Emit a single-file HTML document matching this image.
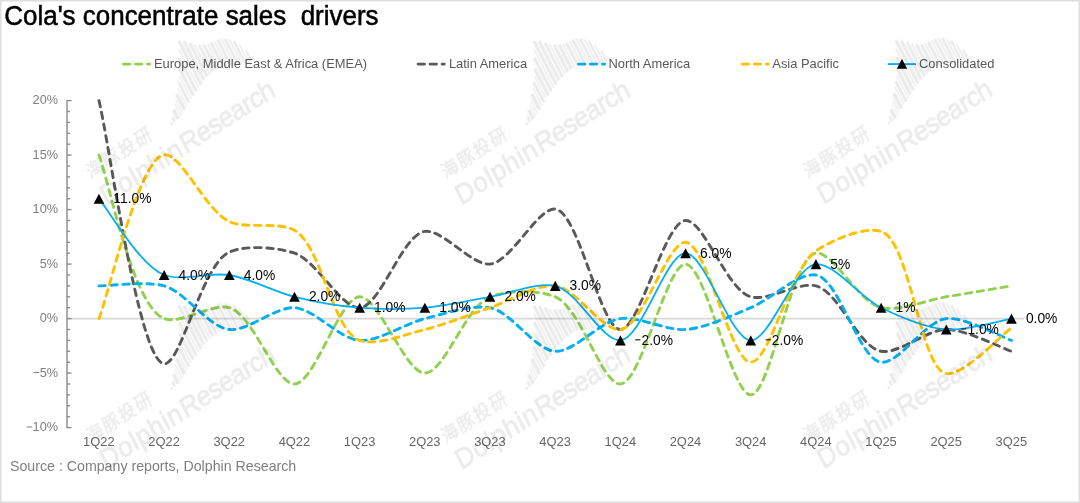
<!DOCTYPE html>
<html><head><meta charset="utf-8"><title>Cola's concentrate sales drivers</title>
<style>html,body{margin:0;padding:0;background:#fff;overflow:hidden}svg{display:block;will-change:transform}</style></head>
<body>
<svg width="1080" height="503" viewBox="0 0 1080 503" font-family="'Liberation Sans', sans-serif">
<rect x="0" y="0" width="1080" height="503" fill="#fff"/>
<line x1="67.0" y1="318.6" x2="1024.5" y2="318.6" stroke="#d9d9d9" stroke-width="1.6"/>
<g stroke="#8c8c8c" stroke-width="1.4" fill="none">
<line x1="67.00" y1="99.90" x2="67.00" y2="428.30"/>
<line x1="67.00" y1="427.60" x2="71.50" y2="427.60"/>
<line x1="67.00" y1="416.70" x2="70.00" y2="416.70"/>
<line x1="67.00" y1="405.80" x2="70.00" y2="405.80"/>
<line x1="67.00" y1="394.90" x2="70.00" y2="394.90"/>
<line x1="67.00" y1="384.00" x2="70.00" y2="384.00"/>
<line x1="67.00" y1="373.10" x2="71.50" y2="373.10"/>
<line x1="67.00" y1="362.20" x2="70.00" y2="362.20"/>
<line x1="67.00" y1="351.30" x2="70.00" y2="351.30"/>
<line x1="67.00" y1="340.40" x2="70.00" y2="340.40"/>
<line x1="67.00" y1="329.50" x2="70.00" y2="329.50"/>
<line x1="67.00" y1="318.60" x2="71.50" y2="318.60"/>
<line x1="67.00" y1="307.70" x2="70.00" y2="307.70"/>
<line x1="67.00" y1="296.80" x2="70.00" y2="296.80"/>
<line x1="67.00" y1="285.90" x2="70.00" y2="285.90"/>
<line x1="67.00" y1="275.00" x2="70.00" y2="275.00"/>
<line x1="67.00" y1="264.10" x2="71.50" y2="264.10"/>
<line x1="67.00" y1="253.20" x2="70.00" y2="253.20"/>
<line x1="67.00" y1="242.30" x2="70.00" y2="242.30"/>
<line x1="67.00" y1="231.40" x2="70.00" y2="231.40"/>
<line x1="67.00" y1="220.50" x2="70.00" y2="220.50"/>
<line x1="67.00" y1="209.60" x2="71.50" y2="209.60"/>
<line x1="67.00" y1="198.70" x2="70.00" y2="198.70"/>
<line x1="67.00" y1="187.80" x2="70.00" y2="187.80"/>
<line x1="67.00" y1="176.90" x2="70.00" y2="176.90"/>
<line x1="67.00" y1="166.00" x2="70.00" y2="166.00"/>
<line x1="67.00" y1="155.10" x2="71.50" y2="155.10"/>
<line x1="67.00" y1="144.20" x2="70.00" y2="144.20"/>
<line x1="67.00" y1="133.30" x2="70.00" y2="133.30"/>
<line x1="67.00" y1="122.40" x2="70.00" y2="122.40"/>
<line x1="67.00" y1="111.50" x2="70.00" y2="111.50"/>
<line x1="67.00" y1="100.60" x2="71.50" y2="100.60"/>
</g>
<g font-size="12.7" fill="#7f7f7f" text-anchor="end">
<text x="58" y="431.40">10%</text>
<rect x="26.58" y="426.50" width="5.6" height="1" />
<text x="58" y="376.90">5%</text>
<rect x="33.64" y="372.00" width="5.6" height="1" />
<text x="58" y="322.40">0%</text>
<text x="58" y="267.90">5%</text>
<text x="58" y="213.40">10%</text>
<text x="58" y="158.90">15%</text>
<text x="58" y="104.40">20%</text>
</g>
<g font-size="12.9" fill="#666" text-anchor="middle">
<text x="98.86" y="445.8">1Q22</text>
<text x="164.04" y="445.8">2Q22</text>
<text x="229.22" y="445.8">3Q22</text>
<text x="294.40" y="445.8">4Q22</text>
<text x="359.58" y="445.8">1Q23</text>
<text x="424.76" y="445.8">2Q23</text>
<text x="489.94" y="445.8">3Q23</text>
<text x="555.12" y="445.8">4Q23</text>
<text x="620.30" y="445.8">1Q24</text>
<text x="685.48" y="445.8">2Q24</text>
<text x="750.66" y="445.8">3Q24</text>
<text x="815.84" y="445.8">4Q24</text>
<text x="881.02" y="445.8">1Q25</text>
<text x="946.20" y="445.8">2Q25</text>
<text x="1011.38" y="445.8">3Q25</text>
</g>
<path d="M98.96 155.10 C108.93 180.12 132.41 306.13 164.14 318.60 C180.47 325.02 212.09 302.79 229.32 307.70 C253.44 314.57 275.43 384.35 294.50 384.00 C314.59 383.63 339.59 297.17 359.68 296.80 C378.75 296.45 405.31 373.10 424.86 373.10 C444.41 373.10 465.65 306.25 490.04 296.80 C507.20 290.15 538.27 289.80 555.22 296.80 C580.61 307.28 601.99 384.70 620.40 384.00 C641.46 383.19 666.39 263.93 685.58 264.10 C705.53 264.28 731.55 395.05 750.76 394.90 C770.68 394.75 791.07 256.35 815.94 253.20 C832.99 251.04 858.88 302.69 881.12 307.70 C898.95 311.72 926.75 300.07 946.30 296.80 C965.85 293.53 1001.51 287.57 1011.48 285.90" fill="none" stroke="#92d050" stroke-width="2.9" stroke-dasharray="6.4 5.6" stroke-linecap="round" stroke-linejoin="round"/>
<path d="M98.96 100.60 C108.93 140.87 138.83 362.08 164.14 363.84 C181.11 365.01 201.70 264.37 229.32 252.11 C245.95 244.73 276.76 247.32 294.50 253.20 C316.96 260.65 341.13 308.66 359.68 307.70 C380.50 306.62 402.34 234.51 424.86 231.40 C442.58 228.96 471.58 265.69 490.04 264.10 C511.00 262.29 537.83 207.17 555.22 209.05 C578.72 211.60 600.40 329.28 620.40 329.50 C639.55 329.71 664.39 221.48 685.58 220.50 C703.91 219.65 726.64 289.93 750.76 296.80 C767.99 301.71 798.44 281.39 815.94 285.90 C839.10 291.88 858.60 347.31 881.12 351.30 C898.84 354.44 926.75 329.50 946.30 329.50 C965.85 329.50 1001.51 347.96 1011.48 351.30" fill="none" stroke="#595959" stroke-width="2.9" stroke-dasharray="6.4 5.6" stroke-linecap="round" stroke-linejoin="round"/>
<path d="M98.96 285.90 C108.93 285.90 146.01 280.88 164.14 285.90 C185.72 291.87 208.47 327.24 229.32 329.50 C247.85 331.51 275.46 306.55 294.50 307.70 C314.63 308.91 339.55 339.19 359.68 340.40 C378.72 341.55 404.89 323.54 424.86 318.60 C444.03 313.86 471.81 304.33 490.04 307.70 C511.41 311.65 535.02 350.34 555.22 351.30 C574.20 352.20 599.80 321.38 620.40 318.60 C639.09 316.08 666.41 330.91 685.58 329.50 C705.55 328.03 731.72 315.57 750.76 307.70 C770.89 299.38 798.50 272.26 815.94 275.00 C839.28 278.67 858.75 359.78 881.12 362.20 C898.90 364.12 925.45 320.86 946.30 318.60 C964.83 316.59 1001.51 337.06 1011.48 340.40" fill="none" stroke="#00b0f0" stroke-width="2.9" stroke-dasharray="6.4 5.6" stroke-linecap="round" stroke-linejoin="round"/>
<path d="M98.96 318.60 C108.93 293.53 139.27 157.43 164.14 154.77 C181.19 152.95 205.95 211.02 229.32 221.59 C246.75 229.47 277.83 221.01 294.50 230.31 C321.75 245.50 332.56 331.11 359.68 340.40 C376.37 346.12 405.69 334.24 424.86 329.50 C444.83 324.56 470.49 314.24 490.04 307.70 C509.59 301.16 536.69 283.89 555.22 285.90 C576.07 288.16 602.62 331.42 620.40 329.50 C642.77 327.08 667.17 241.60 685.58 242.30 C706.64 243.11 730.87 362.03 750.76 362.20 C770.00 362.36 789.41 269.64 815.94 251.02 C832.71 239.25 864.63 226.42 881.12 231.40 C910.24 240.19 920.41 369.58 946.30 373.65 C963.17 376.29 1001.51 334.87 1011.48 327.87" fill="none" stroke="#ffc000" stroke-width="2.9" stroke-dasharray="6.4 5.6" stroke-linecap="round" stroke-linejoin="round"/>
<path d="M98.96 198.70 C108.93 210.37 139.75 265.55 164.14 275.00 C181.30 281.65 210.28 272.00 229.32 275.00 C249.45 278.18 274.53 291.86 294.50 296.80 C313.67 301.54 339.97 306.08 359.68 307.70 C379.09 309.30 405.45 309.30 424.86 307.70 C444.57 306.08 470.49 300.07 490.04 296.80 C509.59 293.53 537.39 281.88 555.22 285.90 C577.46 290.91 602.23 341.68 620.40 340.40 C641.88 338.88 666.03 253.20 685.58 253.20 C705.13 253.20 730.67 340.03 750.76 340.40 C769.83 340.75 794.32 266.03 815.94 264.10 C834.04 262.49 860.27 297.65 881.12 307.70 C899.65 316.63 926.33 328.03 946.30 329.50 C965.47 330.91 1001.51 320.27 1011.48 318.60" fill="none" stroke="#00b0f0" stroke-width="1.8" stroke-linecap="round"/>
<path d="M98.96 193.65 L104.31 203.75 L93.61 203.75 Z" fill="#000"/>
<path d="M164.14 269.95 L169.49 280.05 L158.79 280.05 Z" fill="#000"/>
<path d="M229.32 269.95 L234.67 280.05 L223.97 280.05 Z" fill="#000"/>
<path d="M294.50 291.75 L299.85 301.85 L289.15 301.85 Z" fill="#000"/>
<path d="M359.68 302.65 L365.03 312.75 L354.33 312.75 Z" fill="#000"/>
<path d="M424.86 302.65 L430.21 312.75 L419.51 312.75 Z" fill="#000"/>
<path d="M490.04 291.75 L495.39 301.85 L484.69 301.85 Z" fill="#000"/>
<path d="M555.22 280.85 L560.57 290.95 L549.87 290.95 Z" fill="#000"/>
<path d="M620.40 335.35 L625.75 345.45 L615.05 345.45 Z" fill="#000"/>
<path d="M685.58 248.15 L690.93 258.25 L680.23 258.25 Z" fill="#000"/>
<path d="M750.76 335.35 L756.11 345.45 L745.41 345.45 Z" fill="#000"/>
<path d="M815.94 259.05 L821.29 269.15 L810.59 269.15 Z" fill="#000"/>
<path d="M881.12 302.65 L886.47 312.75 L875.77 312.75 Z" fill="#000"/>
<path d="M946.30 324.45 L951.65 334.55 L940.95 334.55 Z" fill="#000"/>
<path d="M1011.48 313.55 L1016.83 323.65 L1006.13 323.65 Z" fill="#000"/>
<g font-size="13.8" fill="#000">
<text x="113.36" y="203.20">11.0%</text>
<text x="178.54" y="279.50">4.0%</text>
<text x="243.72" y="279.50">4.0%</text>
<text x="308.90" y="301.30">2.0%</text>
<text x="374.08" y="312.20">1.0%</text>
<text x="439.26" y="312.20">1.0%</text>
<text x="504.44" y="301.30">2.0%</text>
<text x="569.62" y="290.40">3.0%</text>
<rect x="635.30" y="339.30" width="5.1" height="1.05"/>
<text x="641.50" y="344.90">2.0%</text>
<text x="699.98" y="257.70">6.0%</text>
<rect x="765.66" y="339.30" width="5.1" height="1.05"/>
<text x="771.86" y="344.90">2.0%</text>
<text x="830.34" y="268.60">5%</text>
<text x="895.52" y="312.20">1%</text>
<rect x="961.20" y="328.40" width="5.1" height="1.05"/>
<text x="967.40" y="334.00">1.0%</text>
<text x="1025.88" y="323.10">0.0%</text>
</g>
<g font-size="12.92" fill="#595959">
<line x1="123.5" y1="64.1" x2="149.6" y2="64.1" stroke="#92d050" stroke-width="2.9" stroke-dasharray="6.4 5.6" stroke-linecap="round"/>
<text x="154.0" y="68.2">Europe, Middle East &amp; Africa (EMEA)</text>
<line x1="418.1" y1="64.1" x2="444.3" y2="64.1" stroke="#595959" stroke-width="2.9" stroke-dasharray="6.4 5.6" stroke-linecap="round"/>
<text x="448.9" y="68.2">Latin America</text>
<line x1="578.5" y1="64.1" x2="604.6" y2="64.1" stroke="#00b0f0" stroke-width="2.9" stroke-dasharray="6.4 5.6" stroke-linecap="round"/>
<text x="608.4" y="68.2">North America</text>
<line x1="742.2" y1="64.1" x2="768.4" y2="64.1" stroke="#ffc000" stroke-width="2.9" stroke-dasharray="6.4 5.6" stroke-linecap="round"/>
<text x="772.3" y="68.2">Asia Pacific</text>
<line x1="888" y1="64.1" x2="916" y2="64.1" stroke="#00b0f0" stroke-width="1.9"/>
<path d="M902.00 58.99 L907.20 68.81 L896.80 68.81 Z" fill="#000"/>
<text x="919" y="68.2">Consolidated</text>
</g>
<text x="4.3" y="25.2" font-size="27" fill="#000" stroke="#000" stroke-width="0.55" textLength="374.2" lengthAdjust="spacingAndGlyphs" xml:space="preserve">Cola's concentrate sales  drivers</text>
<text x="10" y="470.6" font-size="14.2" fill="#7f7f7f">Source : Company reports, Dolphin Research</text>
<defs><g id="wm" fill="#000"><g transform="scale(1,1.12) rotate(-30)"><g font-size="25.7" stroke="#000" stroke-width="0.7"><text x="0" y="0" textLength="90.6">Dolphin</text><text x="92" y="0" textLength="105.3">Research</text></g><text x="-1.9 16.7 35.3 53.9" y="-28.4" font-size="17" font-family="'Liberation Sans', 'Noto Sans CJK SC', sans-serif" stroke="#000" stroke-width="0.48">海豚投研</text><path d="M92.0 -32.2h2.2v2.5h-2.2zM95.5 -36.2h2.6v5.7h-2.6zM99.3 -40.9h3.6v9.6h-3.6zM104.1 -44.8h1.1v12.4h-1.1zM106.5 -47.4h1.1v13.8h-1.1zM108.8 -51.4h3.8v16.1h-3.8zM113.9 -55.8h1.2v18.7h-1.2zM116.3 -59.7h3.0v20.9h-3.0zM120.6 -63.7h1.3v23.3h-1.3zM123.1 -69.5h3.2v27.5h-3.2zM127.6 -78.3h3.2v34.4h-3.2zM132.0 -85.3h1.4v40.0h-1.4zM134.7 -91.5h3.2v44.8h-3.2zM139.1 -88.5h3.2v40.0h-3.2zM143.6 -84.5h3.0v35.1h-3.0zM147.8 -81.1h1.4v31.0h-1.4zM150.5 -78.0h3.2v27.5h-3.2zM154.9 -75.8h3.2v24.9h-3.2zM159.4 -74.9h1.4v24.2h-1.4zM162.0 -74.1h3.2v23.7h-3.2zM166.5 -73.5h1.4v25.0h-1.4zM169.1 -73.0h3.0v26.3h-3.0zM173.4 -72.4h1.4v27.4h-1.4zM176.0 -69.9h2.8v26.2h-2.8zM180.1 -67.4h1.4v25.0h-1.4zM182.7 -63.9h2.6v22.7h-2.6zM186.6 -58.4h1.4v18.3h-1.4zM189.2 -50.2h2.2v11.1h-2.2zM192.7 -42.5h1.4v4.3h-1.4z"/></g></g></defs>
<g opacity="0.08">
<use href="#wm" x="106.4" y="206.0"/>
<use href="#wm" x="461.5" y="206.0"/>
<use href="#wm" x="823.6" y="205.3"/>
<use href="#wm" x="106.4" y="470.5"/>
<use href="#wm" x="461.5" y="470.5"/>
<use href="#wm" x="823.6" y="469.8"/>
</g>
<rect x="0.75" y="0.75" width="1078.5" height="501.5" fill="none" stroke="#dedede" stroke-width="1.5"/>
</svg>
</body></html>
